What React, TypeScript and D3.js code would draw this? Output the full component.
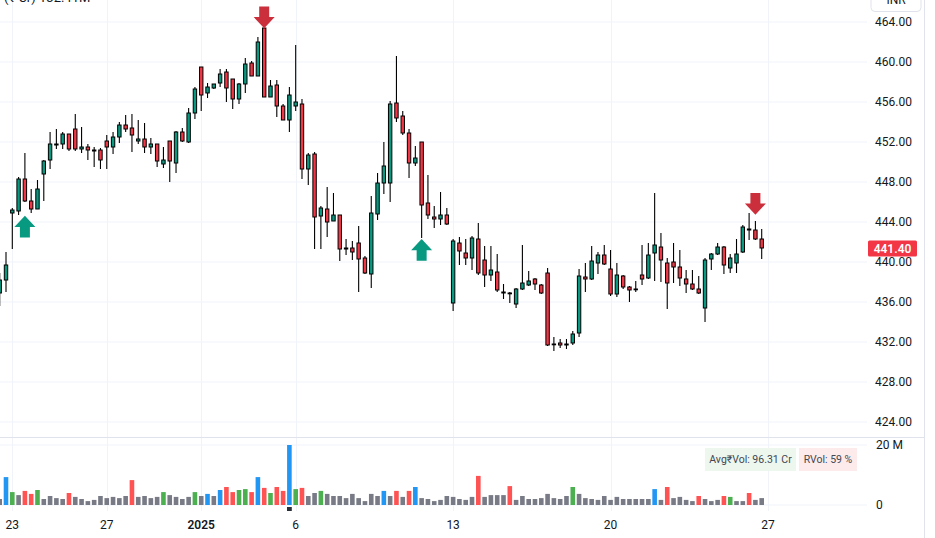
import React from "react";
import * as d3 from "d3";

// bar index of first value (two bars before the Dec 23 open)
const START = -2;

const opens = [
  436.9, 438.2, 444.9, 445.1, 448.3, 446.1, 445.3, 448.8, 450.2, 451.7, 451.8, 452.8, 453.3, 451.3, 451.5, 451.2,
  451.2, 452.1, 451.5, 452.5, 453.7, 453.4, 452.1, 452.3, 451.5, 451.8, 449.8, 452.1, 449.9, 453.0, 452.0, 454.9,
  459.5, 456.9, 457.4, 457.9, 459.0, 458.3, 456.3, 457.8, 459.9, 458.6, 463.4, 456.5, 457.7, 455.6, 454.2, 455.6,
  455.8, 449.3, 450.8, 444.6, 445.3, 444.1, 444.7, 441.3, 441.4, 441.9, 440.4, 438.8, 444.8, 447.9, 447.9, 455.9,
  454.6, 452.9, 449.9, 452.0, 445.9, 444.5, 444.3, 444.7, 435.9, 441.9, 440.9, 440.4, 442.3, 440.2, 438.7, 439.0,
  437.0, 436.9, 435.8, 437.3, 437.7, 438.3, 437.7, 438.9, 431.8, 431.9, 431.7, 431.9, 432.9, 438.5, 438.3, 439.9,
  440.7, 439.3, 436.8, 438.6, 437.5, 437.3, 438.7, 438.4, 440.9, 441.5, 439.9, 440.0, 439.5, 438.3, 437.8, 437.3,
  435.4, 440.3, 440.8, 441.5, 439.4, 439.9, 441.0, 443.3, 443.2, 442.3,
];
const highs = [
  438.9, 441.0, 445.4, 448.5, 450.9, 447.3, 448.2, 450.2, 453.0, 453.3, 453.0, 452.8, 454.8, 453.5, 451.8, 451.5,
  451.4, 452.7, 453.0, 454.0, 454.7, 454.8, 454.2, 453.9, 452.4, 451.8, 451.5, 452.1, 453.1, 453.4, 455.4, 457.5,
  459.5, 457.9, 457.8, 459.3, 459.3, 458.3, 457.9, 460.4, 460.1, 462.5, 463.4, 458.2, 458.2, 455.8, 457.5, 461.7,
  456.3, 450.9, 451.0, 445.6, 447.5, 446.9, 444.7, 442.3, 442.1, 443.6, 440.6, 446.6, 448.9, 452.0, 456.1, 460.6,
  455.1, 453.3, 451.6, 452.0, 448.7, 445.6, 447.0, 445.4, 442.3, 442.5, 442.3, 442.6, 443.9, 441.6, 441.6, 440.8,
  437.8, 437.0, 437.4, 441.7, 439.1, 438.4, 437.8, 439.4, 432.5, 432.3, 432.3, 433.1, 439.3, 439.9, 441.6, 441.0,
  441.7, 441.2, 439.9, 438.7, 437.6, 438.1, 441.7, 441.9, 446.9, 442.9, 440.4, 441.9, 441.2, 439.2, 439.2, 438.6,
  440.4, 440.9, 441.9, 441.6, 440.8, 442.3, 443.7, 444.9, 444.1, 443.3,
];
const lows = [
  435.6, 437.0, 441.3, 444.7, 446.0, 444.9, 445.3, 446.1, 449.3, 451.3, 451.3, 451.1, 451.1, 450.9, 450.2, 449.5,
  449.3, 449.3, 450.8, 451.9, 453.0, 451.0, 451.8, 450.9, 450.8, 449.5, 449.4, 448.0, 448.9, 452.0, 451.9, 454.3,
  455.1, 456.4, 457.3, 457.5, 456.0, 455.3, 455.8, 456.9, 458.6, 458.6, 456.5, 456.5, 454.5, 454.2, 453.0, 455.1,
  448.3, 447.7, 441.3, 441.3, 442.5, 444.1, 440.1, 440.7, 440.2, 437.0, 438.8, 437.4, 444.2, 446.8, 446.0, 454.0,
  452.7, 448.4, 449.6, 442.4, 444.3, 443.4, 443.7, 443.7, 435.1, 439.7, 439.7, 439.2, 438.7, 437.5, 438.1, 437.0,
  436.3, 435.9, 435.4, 437.2, 437.6, 437.2, 436.8, 431.6, 431.1, 431.4, 431.3, 431.7, 432.5, 437.0, 438.2, 438.8,
  439.7, 436.6, 436.5, 437.3, 436.0, 437.0, 437.7, 438.3, 438.1, 438.0, 435.3, 437.9, 437.6, 436.9, 437.2, 436.8,
  434.0, 439.2, 440.7, 438.8, 438.9, 438.9, 440.9, 442.2, 442.2, 440.3,
];
const closes = [
  438.2, 439.7, 445.2, 448.3, 446.1, 445.3, 447.3, 450.1, 451.8, 451.8, 452.8, 451.3, 451.3, 451.5, 451.2, 451.1,
  450.2, 451.5, 452.5, 453.7, 453.3, 452.7, 452.3, 451.5, 451.8, 450.1, 450.2, 450.1, 453.0, 452.1, 454.9, 457.3,
  456.7, 457.5, 457.8, 458.8, 457.4, 456.3, 457.8, 459.8, 458.6, 462.0, 456.5, 457.6, 455.6, 454.2, 456.7, 456.0,
  449.3, 450.7, 444.5, 445.4, 444.0, 444.7, 441.3, 441.4, 441.0, 440.3, 438.9, 444.9, 447.9, 449.6, 455.8, 454.4,
  452.9, 449.9, 450.4, 445.7, 444.7, 444.3, 444.7, 443.8, 442.1, 441.1, 440.4, 442.4, 438.9, 438.7, 439.2, 437.2,
  436.9, 436.9, 437.3, 437.9, 438.1, 437.8, 436.9, 431.7, 431.8, 431.7, 431.8, 432.8, 438.6, 438.3, 440.1, 440.7,
  439.8, 436.8, 438.7, 437.5, 437.2, 437.3, 438.3, 440.7, 441.7, 440.2, 437.9, 439.5, 438.4, 437.8, 437.3, 436.9,
  440.2, 440.8, 441.5, 439.7, 440.4, 440.8, 443.5, 443.2, 442.3, 441.4,
];

// volume in millions, with the indicator's colour class
const volumes = [
  2, 9.3, 4.3, 3.3, 4.7, 3.7, 5, 2, 3, 2.3, 2, 4, 2.7, 2, 1.3, 1.7,
  3, 2.3, 2.7, 2.3, 3, 8.3, 2.7, 3, 2.3, 2.7, 4.3, 3.3, 2.7, 2, 2.7, 4.3,
  3, 3.7, 3, 5, 6, 4.3, 5, 5.3, 4.3, 9.3, 5.7, 4, 6, 4.7, 20, 5.3,
  5.7, 3, 4, 4.7, 3.7, 3, 3, 2.3, 3.7, 2.3, 1.3, 3.7, 3, 4.7, 3, 4.7,
  2.7, 4.7, 6, 2.3, 2, 1.3, 1.7, 3, 2.7, 2, 1.7, 2.7, 9.7, 2.7, 3.3, 3.3,
  3.3, 6.3, 1.7, 3, 2, 2, 2.3, 3.7, 2.3, 2, 3, 6, 3.7, 2.3, 2, 1.7,
  3, 1.7, 2.7, 2, 2, 2, 2, 2, 5.3, 1.7, 6, 2.3, 2.7, 1.7, 1.3, 3,
  2, 1.3, 1.7, 3, 2.7, 1.3, 1.3, 4, 1.7, 2.3,
];
const volumeKinds =
  "gbGgrrGggggrgggg" +
  "gggggrggggGggggG" +
  "gbgbrrGGrbrGrrbG" +
  "rggGgggggggggbgr" +
  "grbgggggggggrggg" +
  "grgggggggggGgggg" +
  "ggggggggbgrggggr" +
  "gggrGggrgg";

const tickIndex = [0, 15, 30, 45, 70, 95, 120];
const tickLabels = ["23", "27", "2025", "6", "13", "20", "27"];
const priceTicks = [464, 460, 456, 452, 448, 444, 440, 436, 432, 428, 424];
const volumeTicks = [20, 0];
const volumeTickLabels = ["20 M", "0"];

const signals = [
  { i: 2, price: 444.63, dir: "up" },
  { i: 40, price: 463.37, dir: "down" },
  { i: 65, price: 442.3, dir: "up" },
  { i: 118, price: 444.73, dir: "down" },
];

const lastPrice = 441.4;
const avgVolText = "Avg₹Vol: 96.31 Cr";
const rvolText = "RVol: 59 %";

const W = 935;
const H = 538;
const FONT = "Roboto, 'Liberation Sans', sans-serif";

const UP = "#089981";
const DOWN = "#F23645";
const VOL_COLORS: Record<string, string> = {
  g: "#787B86",
  b: "#2196F3",
  G: "#4CAF50",
  r: "#FF5252",
};

export default function App() {
  const x = d3.scaleLinear().domain([0, 120]).range([12.3, 768]);
  const y = d3.scaleLinear().domain([424, 464]).range([422, 22]);
  const yv = d3.scaleLinear().domain([0, 20]).range([505, 445]);

  const plotRight = 867;
  const axisLine = 924.5;
  const sepY = 437;
  const paneBottom = 511;

  const bodyW = 3.4;
  const volW = 4.6;

  const bars = opens.map((o, k) => ({
    i: k + START,
    o,
    h: highs[k],
    l: lows[k],
    c: closes[k],
    v: volumes[k],
    vk: volumeKinds[k],
  }));

  const arrowPath = (cx: number, tipY: number, dir: string) => {
    const headW = 10.5;
    const headH = 11.2;
    const shaftW = 5;
    const shaftH = 10.6;
    const s = dir === "down" ? -1 : 1;
    const p = d3.path();
    p.moveTo(cx, tipY);
    p.lineTo(cx + headW, tipY + s * headH);
    p.lineTo(cx + shaftW, tipY + s * headH);
    p.lineTo(cx + shaftW, tipY + s * (headH + shaftH));
    p.lineTo(cx - shaftW, tipY + s * (headH + shaftH));
    p.lineTo(cx - shaftW, tipY + s * headH);
    p.lineTo(cx - headW, tipY + s * headH);
    p.closePath();
    return p.toString();
  };

  return (
    <svg
      width={W}
      height={H}
      style={{ position: "absolute", left: 0, top: 0, background: "#fff" }}
      fontFamily={FONT}
    >
      <defs>
        <clipPath id="plotClip">
          <rect x={0} y={0} width={plotRight} height={sepY} />
        </clipPath>
        <clipPath id="volClip">
          <rect x={0} y={sepY} width={plotRight} height={paneBottom - sepY} />
        </clipPath>
      </defs>

      {/* grid */}
      {priceTicks.map((t) => (
        <line key={"pg" + t} x1={0} x2={plotRight} y1={y(t)} y2={y(t)} stroke="#f0f3fa" strokeWidth={1} />
      ))}
      {volumeTicks.map((t) => (
        <line key={"vg" + t} x1={0} x2={plotRight} y1={yv(t)} y2={yv(t)} stroke="#f0f3fa" strokeWidth={1} />
      ))}
      {tickIndex.map((t, k) => (
        <line
          key={"xg" + k}
          x1={Math.round(x(t)) + 0.5}
          x2={Math.round(x(t)) + 0.5}
          y1={0}
          y2={paneBottom}
          stroke="#f0f3fa"
          strokeWidth={1}
        />
      ))}

      {/* candles */}
      <g clipPath="url(#plotClip)">
        {bars.map((b) => {
          const cx = x(b.i);
          const top = y(Math.max(b.o, b.c));
          const bot = y(Math.min(b.o, b.c));
          const up = b.c >= b.o;
          return (
            <g key={"c" + b.i}>
              <line x1={cx} x2={cx} y1={y(b.h)} y2={y(b.l)} stroke="#000" strokeWidth={1.1} />
              <rect
                x={cx - bodyW / 2}
                y={top}
                width={bodyW}
                height={Math.max(bot - top, 0.8)}
                fill={up ? UP : DOWN}
                stroke="#000"
                strokeWidth={1}
              />
            </g>
          );
        })}
        {signals.map((s, k) => (
          <path
            key={"sig" + k}
            d={arrowPath(x(s.i), y(s.price), s.dir)}
            fill={s.dir === "down" ? "#CC2F3C" : "#089981"}
          />
        ))}
      </g>

      {/* volume */}
      <g clipPath="url(#volClip)">
        {bars.map((b) => (
          <rect
            key={"v" + b.i}
            x={x(b.i) - volW / 2}
            y={yv(b.v)}
            width={volW}
            height={yv(0) - yv(b.v)}
            fill={VOL_COLORS[b.vk]}
          />
        ))}
      </g>
      <rect x={x(44) - 2.4} y={507} width={4.8} height={4} fill="#2a2e39" />

      {/* avg vol badges */}
      <rect x={705} y={448} width={91} height={23} fill="#edf7ee" />
      <text x={750.5} y={463} fontSize={10.5} fill="#434651" textAnchor="middle">
        {avgVolText}
      </text>
      <rect x={799} y={448} width={58} height={23} fill="#fdebec" />
      <text x={828} y={463} fontSize={10.5} fill="#434651" textAnchor="middle">
        {rvolText}
      </text>

      {/* pane separator and price axis border */}
      <line x1={0} x2={axisLine} y1={sepY + 0.5} y2={sepY + 0.5} stroke="#e0e3eb" strokeWidth={1} />
      <line x1={axisLine} x2={axisLine} y1={0} y2={H} stroke="#e0e3eb" strokeWidth={1} />

      {/* price axis labels */}
      {priceTicks.map((t) => (
        <text key={"pl" + t} x={875} y={y(t) + 4.3} fontSize={12} fill="#131722">
          {d3.format(".2f")(t)}
        </text>
      ))}
      {volumeTicks.map((t, k) => (
        <text key={"vl" + t} x={876} y={yv(t) + 4.3} fontSize={12} fill="#131722">
          {volumeTickLabels[k]}
        </text>
      ))}

      {/* last price tag */}
      <rect x={868} y={y(lastPrice) - 7.5} width={49} height={16} rx={1.5} fill="#F23645" />
      <text x={892.5} y={y(lastPrice) + 4.5} fontSize={12} fill="#fff" fontWeight={600} textAnchor="middle">
        {d3.format(".2f")(lastPrice)}
      </text>

      {/* time axis labels */}
      {tickIndex.map((t, k) => (
        <text
          key={"tl" + k}
          x={x(t)}
          y={529}
          fontSize={12}
          fill="#131722"
          textAnchor="middle"
          fontWeight={tickLabels[k] === "2025" ? 600 : 400}
        >
          {tickLabels[k]}
        </text>
      ))}

      {/* cut-off header bits */}
      <text x={4} y={2} fontSize={13} fill="#131722">
        (₹ Cr)  132.41M
      </text>
      <rect x={871} y={-6} width={50} height={17.5} rx={4} fill="#fff" stroke="#e0e3eb" />
      <text x={896} y={4} fontSize={12} fill="#131722" textAnchor="middle">
        INR
      </text>
    </svg>
  );
}
